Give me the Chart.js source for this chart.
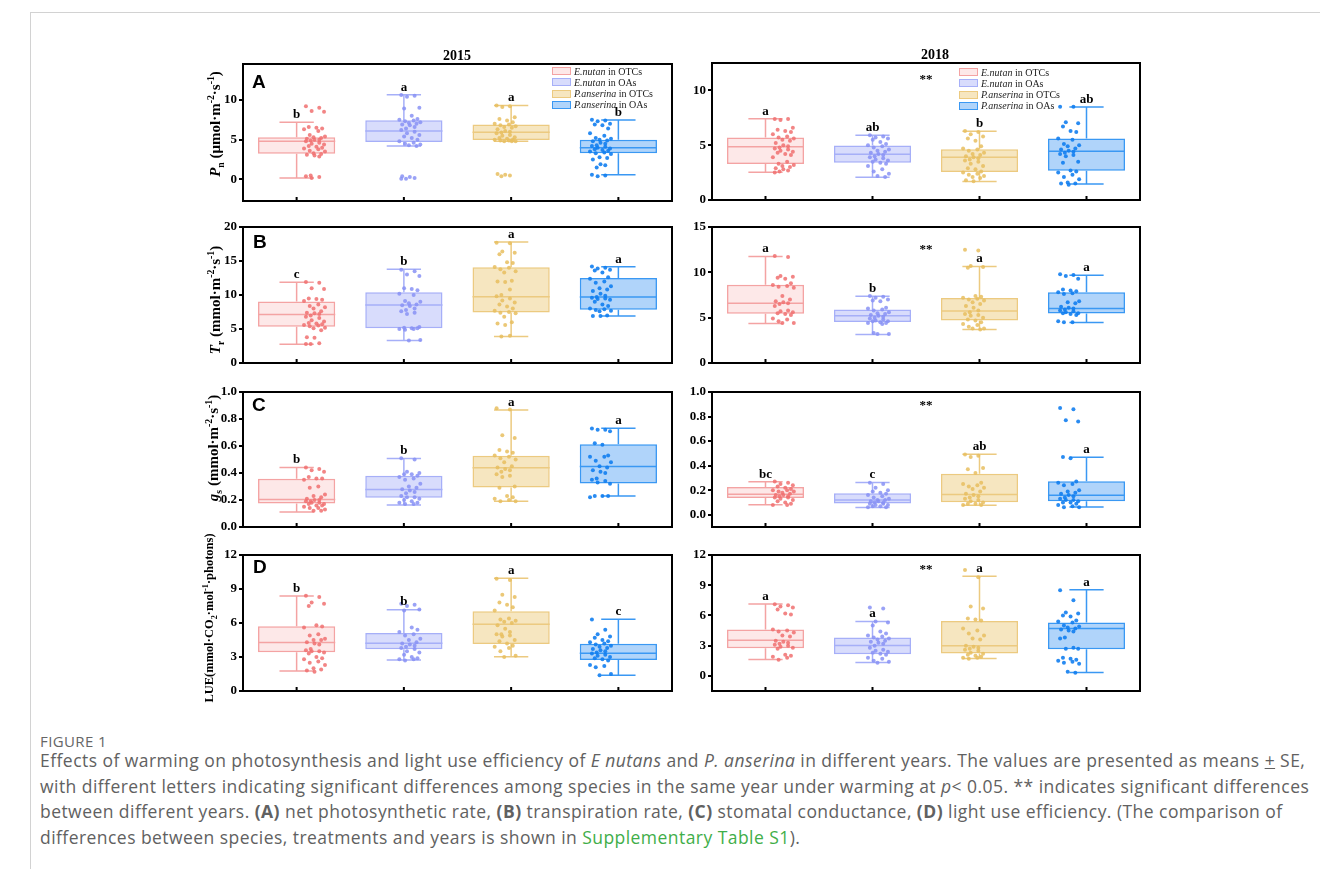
<!DOCTYPE html>
<html>
<head>
<meta charset="utf-8">
<script src="https://cdn.jsdelivr.net/npm/chart.js@4.4.0/dist/chart.umd.min.js"></script>
<style>
  body { margin: 0; background: #fff; }
  #fig { position: relative; width: 1320px; height: 869px; overflow: hidden; }
  .abs { position: absolute; }
  .year { font: bold 14px "Liberation Serif"; width: 80px; text-align: center; line-height: 14px; color: #000; }
  .plet { font: bold 19px "Liberation Sans"; line-height: 19px; color: #000; }
  .ytitle { position: absolute; width: 0; height: 0; }
  .ytitle div { position: absolute; transform: translate(-50%, -50%) rotate(-90deg); white-space: nowrap;
    font: bold 15px "Liberation Serif"; color: #000; }
  .ytitle sub, .ytitle sup { font-size: 65%; }
  .legend { font: 10px "Liberation Serif"; color: #222; line-height: 11.3px; }
  .legend .row { display: flex; align-items: center; height: 11.3px; }
  .legend .sw { width: 19px; height: 8px; margin-right: 3px; box-sizing: border-box; border: 1px solid; }
  .cap { font-family: "Open Sans"; color: #616161; white-space: nowrap; }
</style>
</head>
<body>
<div id="fig"></div>
<script>
  //categories (same order in every panel)
  let groups = ['E.nutan in OTCs', 'E.nutan in OAs', 'P.anserina in OTCs', 'P.anserina in OAs'];

  //box stats per group: [whisker low, q1, median, q3, whisker high]
  let boxA15 = [[0.2, 3.24, 4.79, 5.29, 7.18], [4.2, 4.71, 6.09, 7.44, 10.63], [4.79, 4.96, 5.92, 6.89, 9.29], [0.59, 3.28, 3.99, 5.0, 7.48]];
  let boxA18 = [[2.53, 3.29, 4.85, 5.70, 7.41], [2.07, 3.41, 4.18, 4.97, 5.91], [1.68, 2.56, 3.9, 4.63, 6.28], [1.46, 2.68, 4.45, 5.61, 8.48]];
  let boxB15 = [[2.76, 5.32, 7.14, 9.06, 11.87], [3.3, 5.12, 8.52, 10.39, 13.79], [3.89, 7.44, 9.75, 14.09, 17.78], [6.9, 7.83, 9.7, 12.51, 14.14]];
  let boxB18 = [[4.36, 5.43, 6.58, 8.64, 11.75], [3.14, 4.51, 5.21, 5.91, 7.35], [3.69, 4.69, 5.73, 7.17, 10.64], [4.47, 5.47, 6.02, 7.79, 9.68]];
  let boxC15 = [[0.111, 0.175, 0.204, 0.357, 0.441], [0.163, 0.217, 0.278, 0.379, 0.507], [0.19, 0.293, 0.438, 0.527, 0.867], [0.229, 0.323, 0.448, 0.613, 0.731]];
  let boxC18 = [[0.081, 0.137, 0.167, 0.226, 0.269], [0.059, 0.091, 0.121, 0.175, 0.263], [0.078, 0.102, 0.164, 0.333, 0.492], [0.062, 0.11, 0.159, 0.272, 0.468]];
  let boxD15 = [[1.76, 3.41, 4.29, 5.71, 8.38], [2.74, 3.68, 4.21, 5.12, 7.18], [3.03, 4.15, 5.88, 7.03, 9.94], [1.38, 2.74, 3.32, 4.18, 6.32]];
  let boxD18 = [[1.62, 2.75, 3.55, 4.61, 7.13], [1.33, 2.15, 3.02, 3.81, 5.4], [1.72, 2.22, 2.98, 5.44, 9.88], [0.33, 2.65, 4.71, 5.3, 8.55]];

  let ptsA15 = [
    [9.2, 9.0, 8.6, 8.5, 6.6, 6.5, 6.4, 6.3, 6.1, 5.6, 5.4, 5.3, 5.2, 5.1, 5.0, 5.0, 4.9, 4.8, 4.6, 4.5, 4.4, 4.2, 4.1, 4.0, 3.9, 3.8, 3.6, 3.5, 3.3, 3.2, 3.1, 3.0, 2.9, 0.5, 0.4, 0.3, 0.2],
    [10.6, 10.5, 10.4, 9.0, 8.9, 8.0, 7.6, 7.5, 7.4, 7.3, 7.2, 7.1, 7.0, 6.9, 6.8, 6.6, 6.4, 6.2, 6.0, 5.8, 5.6, 5.4, 5.2, 5.0, 4.8, 4.6, 4.5, 4.4, 4.3, 4.2, 0.4, 0.3, 0.2, 0.1, 0.1],
    [9.3, 9.2, 9.1, 7.8, 7.6, 7.4, 7.2, 7.0, 6.9, 6.8, 6.7, 6.6, 6.5, 6.3, 6.1, 6.0, 5.9, 5.8, 5.6, 5.5, 5.3, 5.2, 5.1, 5.0, 5.0, 4.9, 4.9, 4.8, 4.8, 4.8, 0.7, 0.6, 0.5, 0.4],
    [7.5, 7.4, 7.3, 7.0, 6.9, 6.8, 6.4, 5.8, 5.5, 5.2, 5.1, 5.0, 4.9, 4.8, 4.6, 4.5, 4.3, 4.2, 4.1, 4.0, 3.9, 3.8, 3.7, 3.6, 3.5, 3.4, 3.3, 3.2, 2.8, 2.7, 2.5, 1.9, 1.8, 1.5, 0.6, 0.5, 0.4]
  ];
  let ptsA18 = [
    [7.4, 7.4, 7.3, 6.6, 6.4, 6.3, 6.2, 6.0, 5.8, 5.7, 5.6, 5.5, 5.4, 5.2, 5.0, 4.9, 4.8, 4.7, 4.6, 4.5, 4.4, 4.3, 4.2, 4.1, 3.9, 3.5, 3.3, 3.2, 3.1, 3.0, 2.9, 2.8, 2.7, 2.6, 2.5],
    [5.9, 5.8, 5.7, 5.6, 5.5, 5.3, 5.1, 5.0, 4.9, 4.8, 4.6, 4.5, 4.4, 4.3, 4.2, 4.1, 4.0, 3.9, 3.8, 3.7, 3.6, 3.5, 3.4, 3.3, 3.1, 2.8, 2.6, 2.4, 2.2, 2.1],
    [6.3, 6.2, 6.0, 5.8, 5.6, 5.4, 4.9, 4.7, 4.6, 4.5, 4.3, 4.2, 4.1, 4.0, 3.9, 3.8, 3.7, 3.6, 3.5, 3.3, 3.1, 2.9, 2.8, 2.6, 2.5, 2.4, 2.3, 2.2, 2.1, 2.0, 1.8, 1.7],
    [8.5, 8.5, 7.1, 7.0, 6.7, 6.3, 6.2, 5.6, 5.5, 5.1, 5.0, 4.9, 4.7, 4.6, 4.5, 4.4, 4.3, 4.2, 4.1, 4.0, 3.5, 3.4, 2.7, 2.6, 2.5, 2.3, 2.1, 1.9, 1.6, 1.5, 1.5, 1.4]
  ];
  let ptsB15 = [
    [11.9, 11.8, 11.0, 10.9, 9.5, 9.4, 9.3, 9.1, 8.6, 8.4, 8.2, 8.0, 7.6, 7.4, 7.3, 7.2, 7.0, 6.8, 6.6, 6.3, 6.1, 5.9, 5.8, 5.7, 5.6, 5.5, 5.4, 5.2, 5.1, 4.8, 3.8, 3.7, 2.9, 2.8, 2.8],
    [13.7, 13.5, 13.0, 12.8, 11.0, 10.9, 10.7, 10.2, 10.0, 9.1, 9.0, 8.8, 8.6, 8.5, 8.4, 8.0, 7.8, 7.6, 7.4, 7.2, 5.3, 5.2, 5.1, 5.1, 5.0, 5.0, 4.9, 3.4, 3.3],
    [17.7, 17.6, 16.4, 16.2, 16.0, 14.8, 14.7, 14.1, 14.0, 13.8, 13.5, 13.3, 12.1, 12.0, 11.9, 10.8, 10.0, 9.8, 9.5, 9.2, 8.9, 8.6, 8.3, 8.0, 7.7, 7.5, 7.4, 7.3, 6.8, 6.0, 5.8, 5.6, 4.0, 3.9],
    [14.2, 14.0, 13.9, 13.7, 13.6, 13.3, 12.6, 12.4, 12.0, 11.8, 11.3, 11.0, 10.8, 10.6, 10.2, 9.9, 9.7, 9.6, 9.5, 9.4, 9.3, 9.0, 8.6, 8.4, 8.0, 7.9, 7.8, 7.7, 7.6, 7.0, 6.9, 6.9]
  ];
  let ptsB18 = [
    [11.8, 11.7, 9.6, 9.5, 9.4, 9.3, 8.8, 8.6, 8.5, 8.4, 8.3, 7.4, 7.0, 6.8, 6.7, 6.6, 6.5, 6.3, 5.8, 5.7, 5.6, 5.5, 5.4, 5.3, 4.9, 4.8, 4.6, 4.4, 4.4],
    [7.4, 7.3, 7.2, 7.0, 6.9, 6.8, 6.1, 6.0, 5.9, 5.8, 5.6, 5.5, 5.4, 5.3, 5.2, 5.1, 5.0, 4.9, 4.8, 4.7, 4.6, 4.6, 4.5, 4.4, 4.4, 4.3, 3.3, 3.2, 3.2],
    [12.5, 12.4, 10.7, 10.6, 10.5, 7.4, 7.3, 7.2, 7.1, 7.0, 6.9, 6.7, 6.5, 6.3, 6.1, 5.8, 5.6, 5.4, 5.3, 5.2, 5.0, 4.8, 4.7, 4.5, 4.3, 4.2, 4.0, 3.8, 3.8, 3.7],
    [9.8, 9.7, 9.6, 9.3, 8.1, 8.0, 7.9, 7.8, 7.7, 7.6, 6.8, 6.7, 6.6, 6.2, 6.1, 6.0, 5.9, 5.8, 5.7, 5.6, 5.5, 5.5, 5.4, 5.3, 4.6, 4.5, 4.5]
  ];
  let ptsC15 = [
    [0.44, 0.43, 0.42, 0.41, 0.37, 0.36, 0.36, 0.35, 0.30, 0.29, 0.24, 0.23, 0.22, 0.21, 0.20, 0.20, 0.19, 0.19, 0.18, 0.18, 0.17, 0.17, 0.16, 0.16, 0.15, 0.14, 0.14, 0.13, 0.12, 0.12],
    [0.51, 0.50, 0.41, 0.40, 0.39, 0.39, 0.38, 0.37, 0.36, 0.35, 0.32, 0.30, 0.29, 0.28, 0.27, 0.26, 0.25, 0.23, 0.22, 0.22, 0.21, 0.20, 0.19, 0.18, 0.18, 0.17, 0.17],
    [0.88, 0.87, 0.68, 0.66, 0.57, 0.56, 0.55, 0.53, 0.52, 0.51, 0.50, 0.48, 0.45, 0.44, 0.43, 0.42, 0.41, 0.39, 0.38, 0.37, 0.30, 0.29, 0.23, 0.22, 0.21, 0.20, 0.19, 0.19],
    [0.73, 0.72, 0.72, 0.71, 0.62, 0.61, 0.53, 0.52, 0.52, 0.49, 0.48, 0.45, 0.44, 0.42, 0.41, 0.40, 0.36, 0.35, 0.34, 0.33, 0.32, 0.23, 0.23, 0.23, 0.22]
  ];
  let ptsC18 = [
    [0.27, 0.26, 0.25, 0.24, 0.23, 0.22, 0.21, 0.20, 0.20, 0.19, 0.19, 0.18, 0.17, 0.16, 0.16, 0.15, 0.15, 0.14, 0.14, 0.13, 0.12, 0.11, 0.10, 0.09, 0.08, 0.08],
    [0.26, 0.25, 0.22, 0.20, 0.19, 0.18, 0.17, 0.16, 0.15, 0.14, 0.13, 0.12, 0.12, 0.11, 0.11, 0.10, 0.10, 0.09, 0.09, 0.08, 0.08, 0.07, 0.07, 0.06, 0.06],
    [0.49, 0.48, 0.47, 0.38, 0.37, 0.34, 0.26, 0.25, 0.24, 0.23, 0.22, 0.21, 0.19, 0.17, 0.16, 0.15, 0.14, 0.13, 0.12, 0.11, 0.10, 0.09, 0.09, 0.08, 0.08],
    [0.87, 0.86, 0.77, 0.76, 0.47, 0.46, 0.27, 0.26, 0.25, 0.24, 0.20, 0.19, 0.18, 0.17, 0.16, 0.15, 0.14, 0.13, 0.12, 0.12, 0.11, 0.10, 0.10, 0.09, 0.08, 0.07, 0.06, 0.06]
  ];
  let ptsD15 = [
    [8.4, 8.3, 7.8, 7.7, 7.5, 5.8, 5.7, 5.6, 5.0, 4.9, 4.6, 4.5, 4.5, 4.3, 4.2, 4.1, 3.7, 3.6, 3.5, 3.5, 3.4, 3.3, 3.0, 2.9, 2.8, 2.6, 2.5, 2.3, 2.0, 1.9, 1.8, 1.7],
    [7.7, 7.6, 7.5, 7.2, 7.1, 5.6, 5.4, 5.2, 5.0, 4.9, 4.6, 4.5, 4.3, 4.2, 4.1, 4.0, 3.9, 3.8, 3.7, 3.5, 3.4, 3.2, 3.0, 2.9, 2.8, 2.8, 2.7],
    [9.9, 9.8, 8.5, 8.3, 7.8, 7.6, 7.4, 7.1, 6.4, 6.3, 6.2, 6.1, 6.0, 5.8, 5.5, 5.2, 5.0, 5.0, 4.9, 4.8, 4.5, 4.4, 4.2, 4.0, 3.9, 3.8, 3.5, 3.1, 3.0],
    [6.3, 5.4, 5.0, 4.8, 4.7, 4.5, 4.4, 4.3, 4.2, 4.1, 4.0, 3.9, 3.8, 3.7, 3.6, 3.5, 3.4, 3.3, 3.2, 3.1, 3.0, 2.9, 2.8, 2.7, 2.3, 2.2, 2.1, 1.5, 1.4]
  ];
  let ptsD18 = [
    [7.1, 7.0, 6.9, 6.8, 6.6, 6.2, 6.1, 4.6, 4.5, 4.4, 4.3, 4.0, 3.9, 3.5, 3.4, 3.3, 3.2, 3.1, 3.0, 2.9, 2.8, 2.7, 2.1, 2.0, 1.9, 1.8, 1.6],
    [6.8, 6.7, 5.4, 5.3, 5.0, 4.4, 4.2, 4.0, 3.9, 3.8, 3.7, 3.6, 3.5, 3.4, 3.3, 3.2, 3.0, 2.8, 2.6, 2.5, 2.4, 2.3, 2.2, 2.1, 1.8, 1.7, 1.5, 1.4, 1.3],
    [10.5, 9.8, 6.9, 6.7, 5.7, 5.6, 5.5, 4.7, 4.5, 4.2, 4.0, 3.7, 3.6, 3.0, 2.9, 2.8, 2.7, 2.6, 2.5, 2.3, 2.2, 2.1, 2.0, 1.9, 1.8, 1.8, 1.7],
    [8.5, 7.5, 6.3, 6.2, 6.0, 5.9, 5.5, 5.4, 5.3, 5.0, 4.9, 4.8, 4.7, 4.6, 4.5, 4.4, 3.8, 3.7, 2.8, 2.7, 2.7, 1.8, 1.7, 1.6, 1.5, 1.4, 1.3, 1.2, 0.4, 0.3]
  ];

  //significance letters
  let letA15 = ['b', 'a', 'a', 'b'];
  let letA18 = ['a', 'ab', 'b', 'ab'];
  let letB15 = ['c', 'b', 'a', 'a'];
  let letB18 = ['a', 'b', 'a', 'a'];
  let letC15 = ['b', 'b', 'a', 'a'];
  let letC18 = ['bc', 'c', 'ab', 'a'];
  let letD15 = ['b', 'b', 'a', 'c'];
  let letD18 = ['a', 'a', 'a', 'a'];

  //colours
  let fills = ['rgba(251,205,205,0.45)', 'rgba(178,186,250,0.5)', 'rgba(238,205,130,0.5)', 'rgba(80,160,245,0.45)'];
  let borders = ['#f4a3a3', '#a6aff8', '#ecca80', '#3a98f3'];
  let dots = ['rgba(240,112,112,0.85)', 'rgba(136,146,245,0.85)', 'rgba(232,190,95,0.85)', 'rgba(18,126,240,0.9)'];

  //small fixed horizontal spread for the dots (category units)
  let jit = [-0.09, 0.05, -0.03, 0.1, -0.06, 0.02, 0.08, -0.11, 0.04, -0.05, 0.11, -0.01, 0.07, -0.08, 0.0, 0.05, -0.04];

  let fig = document.getElementById('fig');
  let YW = 46, PAD = 10;

  let panels = [
    {box: boxA15, pts: ptsA15, let: letA15, min: -2.7, max: 14.5, step: 5, dec: 0, l: 243, r: 672, t: 64, b: 201},
    {box: boxA18, pts: ptsA18, let: letA18, min: 0, max: 12.5, step: 5, dec: 0, l: 712, r: 1140, t: 63, b: 200, star: 11},
    {box: boxB15, pts: ptsB15, let: letB15, min: 0, max: 20, step: 5, dec: 0, l: 243, r: 672, t: 227, b: 363},
    {box: boxB18, pts: ptsB18, let: letB18, min: 0, max: 15, step: 5, dec: 0, l: 712, r: 1140, t: 227, b: 363, star: 12.5},
    {box: boxC15, pts: ptsC15, let: letC15, min: 0, max: 1, step: 0.2, dec: 1, l: 243, r: 672, t: 392, b: 527},
    {box: boxC18, pts: ptsC18, let: letC18, min: -0.1, max: 1, step: 0.2, dec: 1, l: 712, r: 1140, t: 392, b: 527, star: 0.89},
    {box: boxD15, pts: ptsD15, let: letD15, min: 0, max: 12, step: 3, dec: 0, l: 243, r: 672, t: 555, b: 691},
    {box: boxD18, pts: ptsD18, let: letD18, min: -1.5, max: 12, step: 3, dec: 0, l: 712, r: 1140, t: 555, b: 691, star: 10.5}
  ];

  function makePanel(p) {
    let w = p.r - p.l, h = p.b - p.t;
    let cv = document.createElement('canvas');
    cv.width = w + YW + PAD;
    cv.height = h + 2 * PAD;
    cv.className = 'abs';
    cv.style.left = (p.l - YW) + 'px';
    cv.style.top = (p.t - PAD) + 'px';
    fig.appendChild(cv);

    //whiskers, medians, frame, letters
    let boxParts = {
      id: 'boxParts',
      beforeDatasetsDraw(chart) {
        let x = chart.scales.x, y = chart.scales.y, ctx = chart.ctx;
        ctx.save();
        ctx.lineWidth = 1.5;
        p.box.forEach((s, i) => {
          let cx = x.getPixelForValue(i), half = x.width / 4 * 0.16;
          ctx.strokeStyle = borders[i];
          ctx.beginPath();
          ctx.moveTo(cx, y.getPixelForValue(s[0])); ctx.lineTo(cx, y.getPixelForValue(s[1]));
          ctx.moveTo(cx, y.getPixelForValue(s[3])); ctx.lineTo(cx, y.getPixelForValue(s[4]));
          ctx.moveTo(cx - half, y.getPixelForValue(s[0])); ctx.lineTo(cx + half, y.getPixelForValue(s[0]));
          ctx.moveTo(cx - half, y.getPixelForValue(s[4])); ctx.lineTo(cx + half, y.getPixelForValue(s[4]));
          ctx.stroke();
        });
        ctx.restore();
      },
      afterDatasetDraw(chart, args) {
        if (args.meta.type !== 'bar') return;
        let y = chart.scales.y, ctx = chart.ctx;
        ctx.save();
        ctx.lineWidth = 1.5;
        args.meta.data.forEach((bar, i) => {
          let half = bar.width / 2, my = y.getPixelForValue(p.box[i][2]);
          ctx.strokeStyle = borders[i];
          ctx.beginPath();
          ctx.moveTo(bar.x - half, my); ctx.lineTo(bar.x + half, my);
          ctx.stroke();
        });
        ctx.restore();
      },
      afterDraw(chart) {
        let a = chart.chartArea, x = chart.scales.x, y = chart.scales.y, ctx = chart.ctx;
        ctx.save();
        ctx.strokeStyle = '#000';
        ctx.lineWidth = 2;
        ctx.strokeRect(a.left, a.top, a.right - a.left, a.bottom - a.top);
        //inward ticks on the bottom axis
        ctx.beginPath();
        groups.forEach((g, i) => {
          let cx = x.getPixelForValue(i);
          ctx.moveTo(cx, a.bottom); ctx.lineTo(cx, a.bottom - 4);
        });
        ctx.stroke();
        ctx.fillStyle = '#000';
        ctx.font = 'bold 13px "Liberation Serif"';
        ctx.textAlign = 'center';
        ctx.textBaseline = 'bottom';
        p.let.forEach((t, i) => {
          ctx.fillText(t, x.getPixelForValue(i), y.getPixelForValue(p.box[i][4]) - 1);
        });
        if (p.star !== undefined) {
          ctx.textBaseline = 'middle';
          ctx.fillText('**', x.getPixelForValue(1.5), y.getPixelForValue(p.star));
        }
        ctx.restore();
      }
    };

    let sets = p.pts.map((vals, gi) => ({
      type: 'scatter',
      xAxisID: 'xp',
      data: vals.map((v, k) => ({x: gi + jit[k % jit.length], y: v})),
      pointRadius: 2,
      pointBorderWidth: 0,
      pointBackgroundColor: dots[gi],
      order: 1
    }));
    sets.push({
      type: 'bar',
      data: p.box.map(s => [s[1], s[3]]),
      backgroundColor: fills,
      borderColor: borders,
      borderWidth: 1.5,
      borderSkipped: false,
      grouped: false,
      order: 2
    });

    new Chart(cv, {
      type: 'bar',
      data: {labels: groups, datasets: sets},
      options: {
        responsive: false,
        animation: false,
        events: [],
        layout: {padding: {top: PAD, bottom: PAD, right: PAD, left: 0}},
        plugins: {legend: {display: false}, tooltip: {enabled: false}},
        scales: {
          x: {display: false},
          xp: {type: 'linear', display: false, min: -0.5, max: 3.5},
          y: {
            min: p.min, max: p.max,
            afterFit(scale) { scale.width = YW; },
            border: {display: false},
            grid: {drawOnChartArea: false, drawTicks: true, tickLength: 4, color: '#000', lineWidth: 2},
            ticks: {
              stepSize: p.step, includeBounds: false, padding: 2, color: '#000',
              font: {family: 'Liberation Serif', weight: 'bold', size: 13},
              callback: v => v.toFixed(p.dec)
            }
          }
        }
      },
      plugins: [boxParts]
    });
  }

  panels.forEach(makePanel);

  //html text: titles, panel letters, axis titles, legends, caption
  function addHtml(html, cls, left, top) {
    let d = document.createElement('div');
    d.className = 'abs ' + cls;
    d.style.left = left + 'px';
    d.style.top = top + 'px';
    d.innerHTML = html;
    fig.appendChild(d);
    return d;
  }

  addHtml('', 'abs', 0, 0).style.cssText = 'position:absolute;left:30px;top:12px;width:1290px;height:0;border-top:1px solid #d2d2d2';
  addHtml('', 'abs', 0, 0).style.cssText = 'position:absolute;left:30px;top:12px;width:0;height:857px;border-left:1px solid #d2d2d2';

  addHtml('2015', 'year', 417, 49);
  addHtml('2018', 'year', 895, 48);

  addHtml('A', 'plet', 252, 72);
  addHtml('B', 'plet', 253, 232);
  addHtml('C', 'plet', 252, 395);
  addHtml('D', 'plet', 253, 557);

  let ytitles = [
    ['<i>P</i><sub>n</sub> (μmol·m<sup>-2</sup>·s<sup>-1</sup>)', 215, 124, 15],
    ['<i>T</i><sub>r</sub> (mmol·m<sup>-2</sup>·s<sup>-1</sup>)', 215, 300, 15],
    ['<i>g</i><sub>s</sub> (mmol·m<sup>-2</sup>·s<sup>-1</sup>)', 213, 448, 15],
    ['LUE(mmol·CO<sub>2</sub>·mol<sup>-1</sup>·photons)', 210, 618, 12.5]
  ];
  ytitles.forEach(t => {
    addHtml('<div style="font-size:' + t[3] + 'px">' + t[0] + '</div>', 'ytitle', t[1], t[2]);
  });

  function legend(left, top) {
    let html = '';
    groups.forEach((g, i) => {
      let parts = g.split(' in ');
      html += '<div class="row"><span class="sw" style="background:' + fills[i] + ';border-color:' + borders[i] + '"></span>' +
        '<span><i>' + parts[0] + '</i> in ' + parts[1] + '</span></div>';
    });
    addHtml(html, 'legend', left, top);
  }
  legend(552, 65.5);
  legend(959, 66.5);

  addHtml('FIGURE 1', 'cap', 40, 733).style.cssText += ';font-size:15px;line-height:16px;letter-spacing:0.4px;color:#666';
  addHtml(
    'Effects of warming on photosynthesis and light use efficiency of <i>E nutans</i> and <i>P. anserina</i> in different years. The values are presented as means <u>+</u> SE,<br>' +
    'with different letters indicating significant differences among species in the same year under warming at <i>p</i>&lt; 0.05. ** indicates significant differences<br>' +
    'between different years. <b>(A)</b> net photosynthetic rate, <b>(B)</b> transpiration rate, <b>(C)</b> stomatal conductance, <b>(D)</b> light use efficiency. (The comparison of<br>' +
    'differences between species, treatments and years is shown in <span style="color:#3fae49">Supplementary Table S1</span>).',
    'cap', 40, 748).style.cssText += ';font-size:17.5px;line-height:25.7px;letter-spacing:0.45px';
</script>
</body>
</html>
